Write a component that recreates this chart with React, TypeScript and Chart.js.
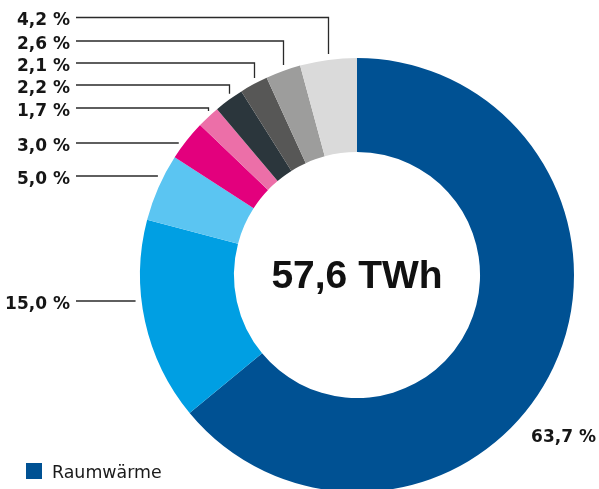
import React, { useEffect, useRef } from "react";
import { Chart, registerables } from "chart.js";

Chart.register(...registerables);

// ---- data ----
const categories = [
  "Raumwärme",
  "Kategorie 2",
  "Kategorie 3",
  "Kategorie 4",
  "Kategorie 5",
  "Kategorie 6",
  "Kategorie 7",
  "Kategorie 8",
  "Kategorie 9",
];
const shares = [63.7, 15.0, 5.0, 3.0, 1.7, 2.2, 2.1, 2.6, 4.2];
const shareLabels = ["63,7 %", "15,0 %", "5,0 %", "3,0 %", "1,7 %", "2,2 %", "2,1 %", "2,6 %", "4,2 %"];
const totalLabel = "57,6 TWh";
const legendItems = ["Raumwärme"];

// ---- styles / layout ----
const colors = [
  "#005193",
  "#009fe3",
  "#5bc5f2",
  "#e3007d",
  "#ec6fa8",
  "#2b363c",
  "#575756",
  "#9d9d9c",
  "#dadada",
];
// leader style per slice: 'none' | 'h' (horizontal only) | 'v' (horizontal + vertical)
const leaderKind = ["none", "h", "h", "h", "v", "v", "v", "v", "v"];
const leaderY = [0, 301, 176, 143, 108, 85, 63, 41, 17.5];

const labelPlugin = {
  id: "labelPlugin",
  afterDraw(chart: any) {
    const ctx = chart.ctx as CanvasRenderingContext2D;
    const meta = chart.getDatasetMeta(0);
    ctx.save();
    const textRight = 70;
    const lineStart = 76;
    const gap = 6;
    meta.data.forEach((arc: any, i: number) => {
      const { x, y, startAngle, endAngle, outerRadius } = arc.getProps(
        ["x", "y", "startAngle", "endAngle", "outerRadius"],
        true
      );
      const mid = (startAngle + endAngle) / 2;
      const ax = x + Math.cos(mid) * outerRadius;
      const ay = y + Math.sin(mid) * outerRadius;
      ctx.fillStyle = "#161616";
      ctx.font = "bold 17px 'DejaVu Sans'";
      ctx.textBaseline = "alphabetic";
      const kind = leaderKind[i];
      if (kind === "none") {
        ctx.textAlign = "right";
        ctx.fillText(shareLabels[i], 596, 442);
        return;
      }
      const ly = leaderY[i];
      ctx.textAlign = "right";
      ctx.fillText(shareLabels[i], textRight, ly + 7.5);
      ctx.strokeStyle = "#2a2a2a";
      ctx.lineWidth = 1.3;
      ctx.beginPath();
      if (kind === "v") {
        const lx = Math.round(ax) + 0.5;
        ctx.moveTo(lineStart, ly);
        ctx.lineTo(lx, ly);
        ctx.lineTo(lx, ay - gap);
      } else {
        const dy = ly - y;
        const cx = x - Math.sqrt(Math.max(outerRadius * outerRadius - dy * dy, 0));
        ctx.moveTo(lineStart, ly);
        ctx.lineTo(cx - gap, ly);
      }
      ctx.stroke();
    });

    // center text
    const c = meta.data[0];
    ctx.fillStyle = "#111111";
    ctx.font = "bold 39px 'Liberation Sans'";
    ctx.textAlign = "center";
    ctx.textBaseline = "alphabetic";
    ctx.fillText(totalLabel, c.x, c.y + 12.5);

    // legend
    legendItems.forEach((name) => {
      const idx = categories.indexOf(name);
      ctx.fillStyle = colors[idx];
      ctx.fillRect(26, 463, 16, 16);
      ctx.fillStyle = "#1a1a1a";
      ctx.font = "17.4px 'DejaVu Sans'";
      ctx.textAlign = "left";
      ctx.fillText(name, 52, 477.7);
    });
    ctx.restore();
  },
};

export default function App() {
  const ref = useRef<HTMLCanvasElement>(null);
  useEffect(() => {
    if (!ref.current) return;
    const chart = new Chart(ref.current, {
      type: "doughnut",
      data: {
        labels: categories,
        datasets: [
          {
            data: shares,
            backgroundColor: colors,
            borderWidth: 0,
            hoverOffset: 0,
          },
        ],
      },
      options: {
        responsive: false,
        animation: false,
        radius: 217,
        cutout: "56.7%",
        layout: { padding: { left: 115, right: 0, top: 61, bottom: 0 } },
        plugins: {
          legend: { display: false },
          tooltip: { enabled: false },
        },
      } as any,
      plugins: [labelPlugin],
    });
    return () => chart.destroy();
  }, []);
  return (
    <div style={{ position: "absolute", left: 0, top: 0, width: 599, height: 489, background: "#fff" }}>
      <canvas ref={ref} width={599} height={489} />
    </div>
  );
}
